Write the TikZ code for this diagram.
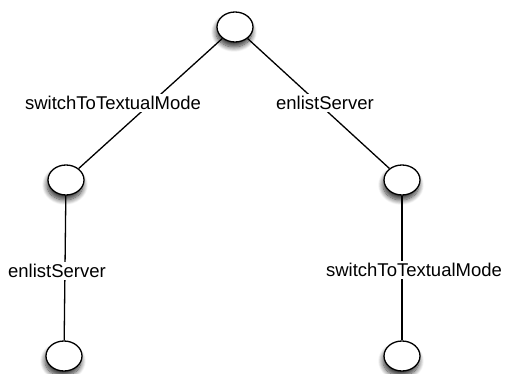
\documentclass[tikz,border=0pt]{standalone}
\usepackage{fontspec}
\setmainfont{Liberation Sans}
\usetikzlibrary{shapes.geometric, shadows.blur}

\begin{document}
\begin{tikzpicture}[x=1pt, y=-1pt, line width=1.3pt,
   main node/.style={ellipse, draw, fill=white, inner sep=0pt, minimum width=36pt, minimum height=30pt,
                     blur shadow={shadow xshift=-1pt, shadow yshift=-5pt, shadow blur radius=5pt,
                                  shadow blur steps=10, shadow opacity=80}},
   lbl/.style={fill=white, inner sep=2pt, font=\fontsize{18.5}{20}\selectfont}]
   \useasboundingbox (0,0) rectangle (508,374);

   \node[main node] (0) at (235,27)  {};
   \node[main node] (1) at (66,180)  {};
   \node[main node] (2) at (402,180) {};
   \node[main node] (3) at (64,356)  {};
   \node[main node] (4) at (402,356) {};

   \draw (0) -- (1);
   \draw (0) -- (2);
   \draw (1) -- (3);
   \draw (2) -- (4);

   \node[lbl] (a) at (113,103) {switchToTextualMode};
   \node[lbl] (b) at (325,103) {enlistServer};
   \node[lbl] (c) at (57,271)  {enlistServer};
   \node[lbl] (d) at (414,270) {switchToTextualMode};
\end{tikzpicture}
\end{document}
